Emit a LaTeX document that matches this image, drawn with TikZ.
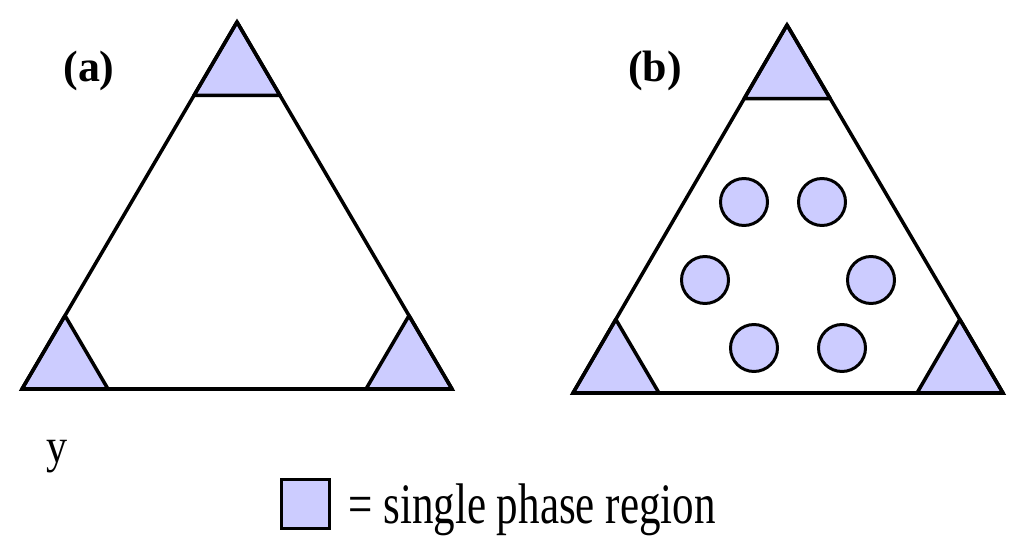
\documentclass[tikz,border=0pt]{standalone}
\usepackage{fontspec}
\setmainfont{Liberation Serif}
\usepackage{tikz}
\usetikzlibrary{positioning, calc}
\definecolor{phasefill}{HTML}{CCCCFF}

\tikzset{
    outline/.style={black, line width=2pt, line join=miter},
    region/.style={draw=black, fill=phasefill, line width=2pt, line join=round},
    drop/.style={circle, draw=black, fill=phasefill, line width=1.7pt, minimum size=0.94cm, inner sep=0pt},
    panel/.style={font=\fontsize{25}{29}\selectfont\bfseries},
}

\def\tikcorners{%
    \def\corner{0.2}

    % triangle (a)
    \coordinate (a-top) at (237,22);
    \coordinate (a-left) at (22,389);
    \coordinate (a-right) at (452,389);
    % triangle (b)
    \coordinate (b-top) at (787,25);
    \coordinate (b-left) at (573,393);
    \coordinate (b-right) at (1003,393);

    % draw single phase corners
    \foreach \t in {a,b}
    {
        \foreach \c/\p/\q in {top/left/right, left/top/right, right/top/left}
        {
            \filldraw[region] (\t-\c) -- ($(\t-\c)!\corner!(\t-\p)$)
                -- ($(\t-\c)!\corner!(\t-\q)$) -- cycle;
        }
        % border
        \draw[outline] (\t-top) -- (\t-left) -- (\t-right) -- cycle;
    }
}

\begin{document}
\begin{tikzpicture}[x=0.02cm, y=-0.02cm]
    \useasboundingbox (0,0) rectangle (1024,550);
    \tikcorners

    % droplets inside (b)
    \foreach \name/\x/\y in {
        d1/744/202,
        d2/822/202,
        d3/705/280,
        d4/871/280,
        d5/754/348,
        d6/842/348}{

        \node[drop] (\name) at (\x,\y) {};
    }

    \node[panel] (label-a) at (89,71) {(a)};
    \node[panel] (label-b) at (655,71) {(b)};

    \node[anchor=base, inner sep=0, font=\fontsize{24}{28}\selectfont]
        (ylabel) at (57,462) {\scalebox{1}[1.15]{y}};

    % legend
    \node[draw=black, fill=phasefill, line width=2pt, minimum width=0.96cm,
        minimum height=0.98cm, inner sep=0] (key) at (305.5,504) {};
    \node[anchor=base west, inner sep=0, font=\fontsize{24.5}{28}\selectfont]
        (keytext) at (348,523) {\scalebox{1}[1.33]{= single phase region}};
\end{tikzpicture}
\end{document}
